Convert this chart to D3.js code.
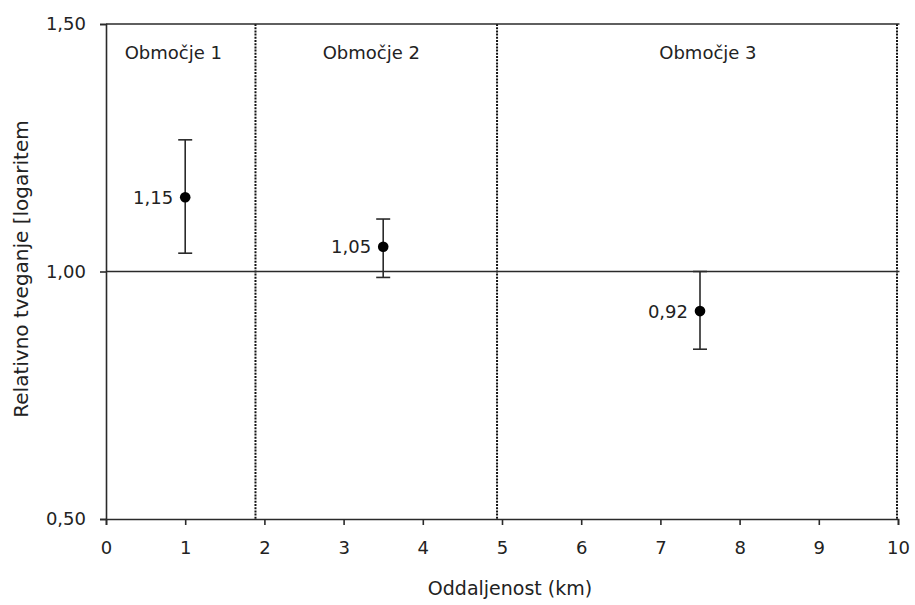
<!DOCTYPE html>
<html>
<head>
<meta charset="utf-8">
<script src="https://cdn.jsdelivr.net/npm/d3@7"></script>
<style>
  body { margin: 0; background: #fff; }
  text { font-family: "DejaVu Sans", sans-serif; fill: #222; }
</style>
</head>
<body>
<div id="chart"></div>
<script>
// data
const distance = [1, 3.5, 7.5];
const risk = [1.15, 1.05, 0.92];
const lower = [1.037, 0.988, 0.843];
const upper = [1.266, 1.106, 1.0];
const riskLabels = ["1,15", "1,05", "0,92"];

// zone borders and labels
const zoneBorders = [1.9, 4.95, 10];
const zoneNames = ["Območje 1", "Območje 2", "Območje 3"];
const zoneLabelAt = [0.85, 3.35, 7.6];

const xTicks = [0, 1, 2, 3, 4, 5, 6, 7, 8, 9, 10];
const yTicks = [0.5, 1.0, 1.5];
const yTickLabels = ["0,50", "1,00", "1,50"];

const width = 915;
const height = 605;
const margin = { top: 24, right: 17, bottom: 86, left: 106 };

const x = d3.scaleLinear()
            .domain([0, 10])
            .range([margin.left, width - margin.right]);

const y = d3.scaleLinear()
            .domain([0.5, 1.5])
            .range([height - margin.bottom, margin.top]);

const svg = d3.select("#chart")
              .append("svg")
              .attr("width", width)
              .attr("height", height);

const lineColor = "#2a2a2a";

// dotted zone borders
svg.append("g")
   .selectAll("line")
   .data(zoneBorders)
   .join("line")
     .attr("x1", d => x(d) - 1)
     .attr("x2", d => x(d) - 1)
     .attr("y1", y(1.5))
     .attr("y2", y(0.5))
     .attr("stroke", "#111")
     .attr("stroke-width", 2)
     .attr("stroke-dasharray", "2,1.2");

// reference lines at 1,00 and top border
svg.append("g")
   .selectAll("line")
   .data([1.0, 1.5])
   .join("line")
     .attr("x1", x(0))
     .attr("x2", x(10) + 1.5)
     .attr("y1", d => y(d))
     .attr("y2", d => y(d))
     .attr("stroke", lineColor)
     .attr("stroke-width", 1.6);

// x-axis
const xAxis = svg.append("g")
   .attr("transform", `translate(0, ${y(0.5)})`)
   .call(d3.axisBottom(x).tickValues(xTicks).tickSize(6).tickPadding(25).tickFormat(d3.format("d")));

// y-axis
const yAxis = svg.append("g")
   .attr("transform", `translate(${x(0)}, 0)`)
   .call(d3.axisLeft(y).tickValues(yTicks).tickSize(6).tickPadding(14).tickFormat((d, i) => yTickLabels[i]));

[xAxis, yAxis].forEach(a => {
  a.select(".domain").attr("stroke", lineColor).attr("stroke-width", 1.6);
  a.selectAll(".tick line").attr("stroke", lineColor).attr("stroke-width", 1.6);
  a.selectAll(".tick text")
   .style("font-family", "DejaVu Sans, sans-serif")
   .style("font-size", "18px")
   .attr("fill", "#222");
});
xAxis.selectAll(".tick text").attr("dy", "0.2em");

// zone labels
svg.append("g")
   .selectAll("text")
   .data(zoneNames)
   .join("text")
     .attr("x", (d, i) => x(zoneLabelAt[i]))
     .attr("y", 59)
     .attr("text-anchor", "middle")
     .style("font-size", "18px")
     .text(d => d);

// error bars
const bars = svg.append("g");
bars.selectAll(".stem")
    .data(distance)
    .join("line")
      .attr("x1", d => x(d))
      .attr("x2", d => x(d))
      .attr("y1", (d, i) => y(lower[i]))
      .attr("y2", (d, i) => y(upper[i]))
      .attr("stroke", lineColor)
      .attr("stroke-width", 1.6);

const caps = distance.flatMap((d, i) => [[d, lower[i]], [d, upper[i]]]);
bars.selectAll(".cap")
    .data(caps)
    .join("line")
      .attr("x1", d => x(d[0]) - 7)
      .attr("x2", d => x(d[0]) + 7)
      .attr("y1", d => y(d[1]))
      .attr("y2", d => y(d[1]))
      .attr("stroke", lineColor)
      .attr("stroke-width", 1.6);

// points
svg.append("g")
   .selectAll("circle")
   .data(distance)
   .join("circle")
     .attr("cx", d => x(d))
     .attr("cy", (d, i) => y(risk[i]))
     .attr("r", 5.3)
     .attr("fill", "#000");

// point labels
svg.append("g")
   .selectAll("text")
   .data(riskLabels)
   .join("text")
     .attr("x", (d, i) => x(distance[i]) - 12)
     .attr("y", (d, i) => y(risk[i]))
     .attr("dy", "0.36em")
     .attr("text-anchor", "end")
     .style("font-size", "18px")
     .text(d => d);

// axis titles
svg.append("text")
   .attr("x", 510)
   .attr("y", 595)
   .attr("text-anchor", "middle")
   .style("font-size", "19px")
   .text("Oddaljenost (km)");

svg.append("text")
   .attr("transform", `translate(28, 269) rotate(-90)`)
   .attr("text-anchor", "middle")
   .style("font-size", "20px")
   .text("Relativno tveganje [logaritem");
</script>
</body>
</html>
